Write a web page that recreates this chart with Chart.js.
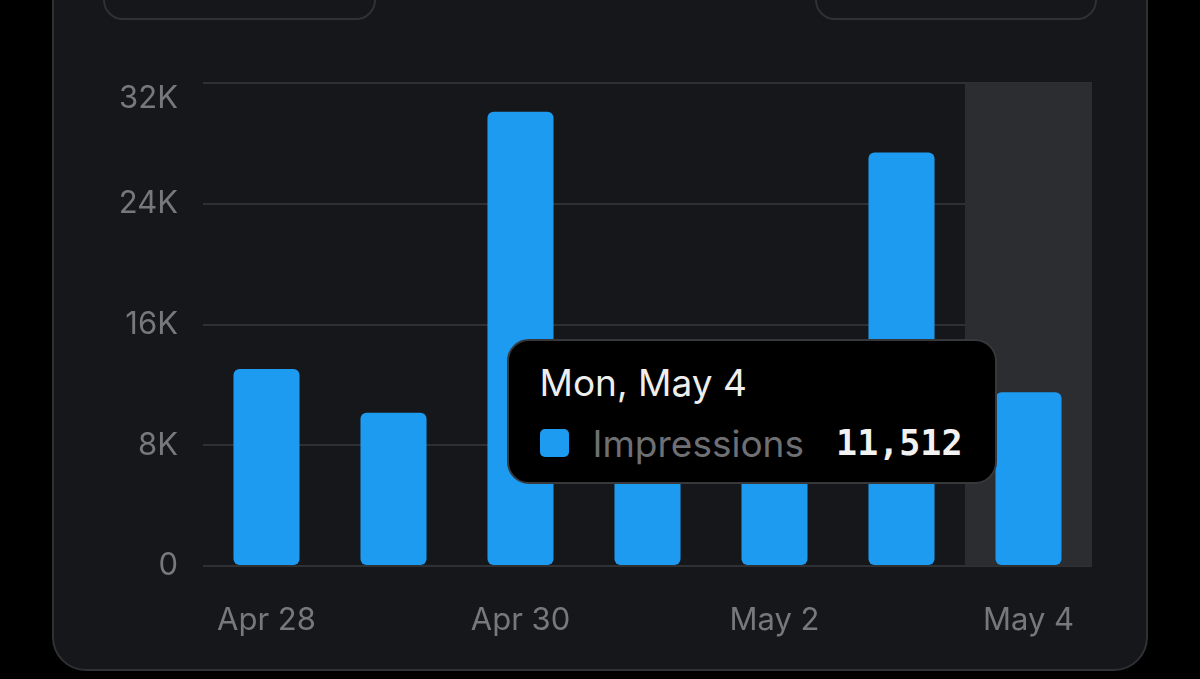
<!DOCTYPE html>
<html>
<head>
<meta charset="utf-8">
<script src="https://cdn.jsdelivr.net/npm/chart.js@4/dist/chart.umd.min.js"></script>
<style>
    html, body { margin: 0; padding: 0; background: #000; width: 1200px; height: 679px; overflow: hidden; font-family: Inter, "Noto Sans", sans-serif; }
    #painel { position: absolute; left: 52px; top: -60px; width: 1092px; height: 727px; background: #16171b; border: 2px solid #2f3135; border-radius: 34px; }
    .botao { position: absolute; top: -40px; height: 56px; border: 2px solid #2f3135; border-radius: 20px; }
    #botaoEsq { left: 103px; width: 269px; }
    #botaoDir { left: 815px; width: 278px; }
    #grafico { position: absolute; left: 0; top: 0; }
    #tooltipBox { position: absolute; box-sizing: border-box; width: 490px; height: 145px; background: #000; border: 2px solid #37383c; border-radius: 22px; padding: 19px 32px 0 31px; color: #e7e9ea; opacity: 0; }
    .tt-title { font-size: 37px; line-height: 46px; color: #eeeeee; }
    .tt-body { display: flex; align-items: center; margin-top: 14px; height: 46px; }
    .tt-box { width: 29px; height: 28px; background: #1d9bf0; border-radius: 5px; margin-right: 24px; }
    .tt-label { font-size: 37px; color: #6e7074; }
    .tt-value { margin-left: auto; font-family: "DejaVu Sans Mono", monospace; font-weight: bold; font-size: 35px; color: #f2f2f2; }
</style>
</head>
<body>
<div id="painel"></div>
<div class="botao" id="botaoEsq"></div>
<div class="botao" id="botaoDir"></div>
<canvas id="grafico" width="1200" height="679"></canvas>
<div id="tooltipBox"></div>
<script>
const dias = ["Apr 28", "Apr 29", "Apr 30", "May 1", "May 2", "May 3", "May 4"];
const titulos = ["Tue, Apr 28", "Wed, Apr 29", "Thu, Apr 30", "Fri, May 1", "Sat, May 2", "Sun, May 3", "Mon, May 4"];
const impressoes = [13050, 10150, 30100, 9200, 8700, 27400, 11512];
const ticksY = [0, 8000, 16000, 24000, 32000];
const indiceDestaque = 6;

const destaque = {
    id: 'destaque',
    beforeDatasetsDraw(chart) {
        let x = chart.scales.x;
        let area = chart.chartArea;
        let meio = x.getPixelForValue(indiceDestaque);
        let largura = (x.right - x.left) / dias.length;
        let ctx = chart.ctx;
        ctx.save();
        ctx.fillStyle = '#2c2d31';
        ctx.fillRect(meio - largura / 2, area.top, largura, area.bottom - area.top);
        ctx.restore();
    }
};

function tooltipExterno(context) {
    let chart = context.chart;
    let tooltip = context.tooltip;
    let el = document.getElementById('tooltipBox');
    if (tooltip.opacity === 0) {
        el.style.opacity = 0;
        return;
    }
    let i = tooltip.dataPoints[0].dataIndex;
    el.innerHTML = `<div class="tt-title">${titulos[i]}</div>
        <div class="tt-body"><span class="tt-box"></span><span class="tt-label">Impressions</span><span class="tt-value">${impressoes[i].toLocaleString('en-US')}</span></div>`;
    el.style.opacity = 1;
    el.style.left = (chart.canvas.offsetLeft + tooltip.caretX - 32 - el.offsetWidth) + 'px';
    el.style.top = (chart.canvas.offsetTop + tooltip.caretY - 53) + 'px';
}

let ctx = document.getElementById('grafico').getContext('2d');
let chart = new Chart(ctx, {
    type: 'bar',
    data: {
        labels: dias,
        datasets: [{
            label: 'Impressions',
            data: impressoes,
            backgroundColor: '#1d9bf0',
            hoverBackgroundColor: '#1d9bf0',
            borderRadius: 6,
            borderSkipped: false,
            barPercentage: 0.52,
            categoryPercentage: 1
        }]
    },
    options: {
        responsive: false,
        animation: false,
        events: [],
        layout: { padding: { left: 93, right: 108, top: 83, bottom: 32 } },
        scales: {
            y: {
                min: 0,
                max: 32000,
                afterBuildTicks: scale => { scale.ticks = ticksY.map(v => ({ value: v })); },
                afterFit: scale => { scale.width = 110; },
                border: { display: false },
                grid: { color: '#2f3034', lineWidth: 2, drawTicks: false },
                ticks: {
                    color: '#77787c',
                    padding: 25,
                    font: ctx => ({ family: 'Inter', size: 31, lineHeight: ctx.index === 4 ? 1.03 : 1.2 }),
                    callback: value => value === 0 ? '0' : (value === 32000 ? ['', '32K'] : (value / 1000) + 'K')
                }
            },
            x: {
                afterFit: scale => { scale.height = 81; },
                border: { display: false },
                grid: { display: false, drawTicks: false },
                ticks: {
                    color: '#77787c',
                    padding: 36,
                    maxRotation: 0,
                    autoSkip: false,
                    font: { family: 'Inter', size: 31 },
                    callback: function (value, index) {
                        return index % 2 === 0 ? dias[index] : '';
                    }
                }
            }
        },
        plugins: {
            legend: { display: false },
            tooltip: {
                enabled: false,
                external: tooltipExterno
            }
        }
    },
    plugins: [destaque]
});

chart.tooltip.setActiveElements([{ datasetIndex: 0, index: indiceDestaque }], { x: 0, y: 0 });
chart.update();
</script>
</body>
</html>
